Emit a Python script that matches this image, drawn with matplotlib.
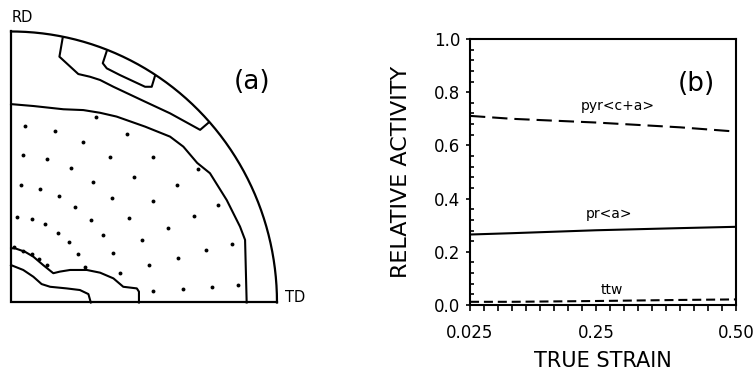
import numpy as np
import matplotlib
matplotlib.use("Agg")
import matplotlib.pyplot as plt
from matplotlib.ticker import MultipleLocator, AutoMinorLocator

plt.rcParams["font.family"] = ["DejaVu Sans"]
plt.rcParams["lines.scale_dashes"] = False

# ---------------- panel (a): pole figure, coordinates in units of the radius
contour_outer = [(0.000, 0.732), (0.084, 0.725), (0.197, 0.713), (0.272, 0.710),
                 (0.335, 0.700), (0.397, 0.686), (0.504, 0.649), (0.598, 0.612),
                 (0.648, 0.575), (0.700, 0.515), (0.748, 0.477), (0.811, 0.378),
                 (0.861, 0.280), (0.880, 0.231), (0.886, 0.000)]
contour_rim = [(0.194, 0.975), (0.182, 0.907), (0.253, 0.843), (0.297, 0.833),
               (0.335, 0.821), (0.385, 0.796), (0.504, 0.741), (0.598, 0.698),
               (0.711, 0.637), (0.742, 0.663)]
contour_rim_inner = [(0.360, 0.928), (0.345, 0.883), (0.360, 0.864), (0.410, 0.839),
                     (0.504, 0.796), (0.529, 0.796), (0.541, 0.835)]
contour_low = [(0.000, 0.200), (0.015, 0.200), (0.053, 0.187), (0.084, 0.169),
               (0.121, 0.138), (0.159, 0.108), (0.184, 0.114), (0.222, 0.120),
               (0.285, 0.120), (0.335, 0.110), (0.385, 0.089), (0.422, 0.058),
               (0.473, 0.052), (0.481, 0.040), (0.481, 0.000)]
contour_low_inner = [(0.000, 0.138), (0.046, 0.120), (0.084, 0.095), (0.115, 0.068),
                     (0.147, 0.058), (0.209, 0.052), (0.259, 0.046), (0.291, 0.031),
                     (0.300, 0.000)]
dots_x = [0.320, 0.053, 0.165, 0.435, 0.272, 0.044, 0.136, 0.372, 0.535, 0.224,
          0.462, 0.036, 0.109, 0.309, 0.179, 0.381, 0.242, 0.024, 0.078, 0.300,
          0.444, 0.128, 0.175, 0.347, 0.491, 0.217, 0.251, 0.385, 0.278, 0.410,
          0.011, 0.046, 0.078, 0.106, 0.134, 0.704, 0.623, 0.535, 0.779, 0.689,
          0.591, 0.830, 0.732, 0.629, 0.520, 0.855, 0.755, 0.648, 0.535]
dots_y = [0.683, 0.651, 0.634, 0.622, 0.593, 0.545, 0.531, 0.538, 0.538, 0.495,
          0.464, 0.434, 0.418, 0.445, 0.393, 0.384, 0.352, 0.317, 0.307, 0.304,
          0.313, 0.288, 0.258, 0.248, 0.231, 0.222, 0.179, 0.181, 0.130, 0.108,
          0.205, 0.191, 0.179, 0.162, 0.139, 0.492, 0.435, 0.376, 0.360, 0.319,
          0.276, 0.217, 0.194, 0.165, 0.137, 0.065, 0.058, 0.051, 0.042]

# ---------------- panel (b): relative activity vs true strain
strain = [0.025, 0.10, 0.25, 0.40, 0.50]
pyr_ca = [0.711, 0.700, 0.686, 0.668, 0.652]
pr_a = [0.265, 0.270, 0.281, 0.289, 0.294]
ttw = [0.012, 0.012, 0.015, 0.019, 0.021]

fig = plt.figure(figsize=(7.53, 3.73), dpi=100)

# ---- (a)
ax1 = fig.add_axes([0.0, 0.1689, 0.3984, 0.8043])
ax1.set_xlim(-0.0414, 1.0865)
ax1.set_ylim(-0.0277, 1.0793)
ax1.axis("off")

t = np.linspace(0, np.pi / 2, 200)
ax1.plot(np.cos(t), np.sin(t), color="black", lw=1.6)
ax1.plot([0, 0, 1], [1, 0, 0], color="black", lw=1.6, solid_joinstyle="miter")
for c in [contour_outer, contour_rim, contour_rim_inner, contour_low, contour_low_inner]:
    xs, ys = zip(*c)
    ax1.plot(xs, ys, color="black", lw=1.5)
ax1.plot(dots_x, dots_y, "o", color="black", ms=2.8, mew=0)

ax1.text(0.004, 1.050, "RD", fontsize=10.5, ha="left", va="center")
ax1.text(1.030, 0.017, "TD", fontsize=10.5, ha="left", va="center")
ax1.text(0.905, 0.812, "(a)", fontsize=19, ha="center", va="center")

# ---- (b)
ax2 = fig.add_axes([0.6242, 0.1823, 0.3533, 0.7131])
ax2.plot(strain, pyr_ca, color="black", lw=1.5, dashes=(11, 5))
ax2.plot(strain, pr_a, color="black", lw=1.5)
ax2.plot(strain, ttw, color="black", lw=1.5, dashes=(6.5, 3.5))
ax2.set_xlim(0.025, 0.5)
ax2.set_ylim(0, 1)

ax2.set_xticks([0.025, 0.25, 0.5], ["0.025", "0.25", "0.50"])
ax2.xaxis.set_minor_locator(MultipleLocator(0.025))
ax2.set_yticks([0, 0.2, 0.4, 0.6, 0.8, 1.0], ["0.0", "0.2", "0.4", "0.6", "0.8", "1.0"])
ax2.yaxis.set_minor_locator(AutoMinorLocator(5))
ax2.tick_params(axis="x", which="both", direction="out", length=4.5, width=1.2,
                labelsize=12, pad=9)
ax2.tick_params(axis="y", which="major", direction="out", length=3, width=1.2,
                labelsize=12, pad=4)
ax2.tick_params(axis="y", which="minor", direction="in", length=3, width=1.2)
for s in ax2.spines.values():
    s.set_linewidth(1.5)

ax2.set_xlabel("TRUE STRAIN", fontsize=15, va="center")
ax2.xaxis.set_label_coords(0.5, -0.2105)
ax2.set_ylabel("RELATIVE ACTIVITY", fontsize=16, va="center")
ax2.yaxis.set_label_coords(-0.259, 0.5)

ax2.text(0.288, 0.748, "pyr<c+a>", fontsize=10, ha="center", va="center")
ax2.text(0.273, 0.342, "pr<a>", fontsize=10, ha="center", va="center")
ax2.text(0.279, 0.056, "ttw", fontsize=10, ha="center", va="center")
ax2.text(0.430, 0.831, "(b)", fontsize=19, ha="center", va="center")

fig.savefig("out.png", dpi=100)
